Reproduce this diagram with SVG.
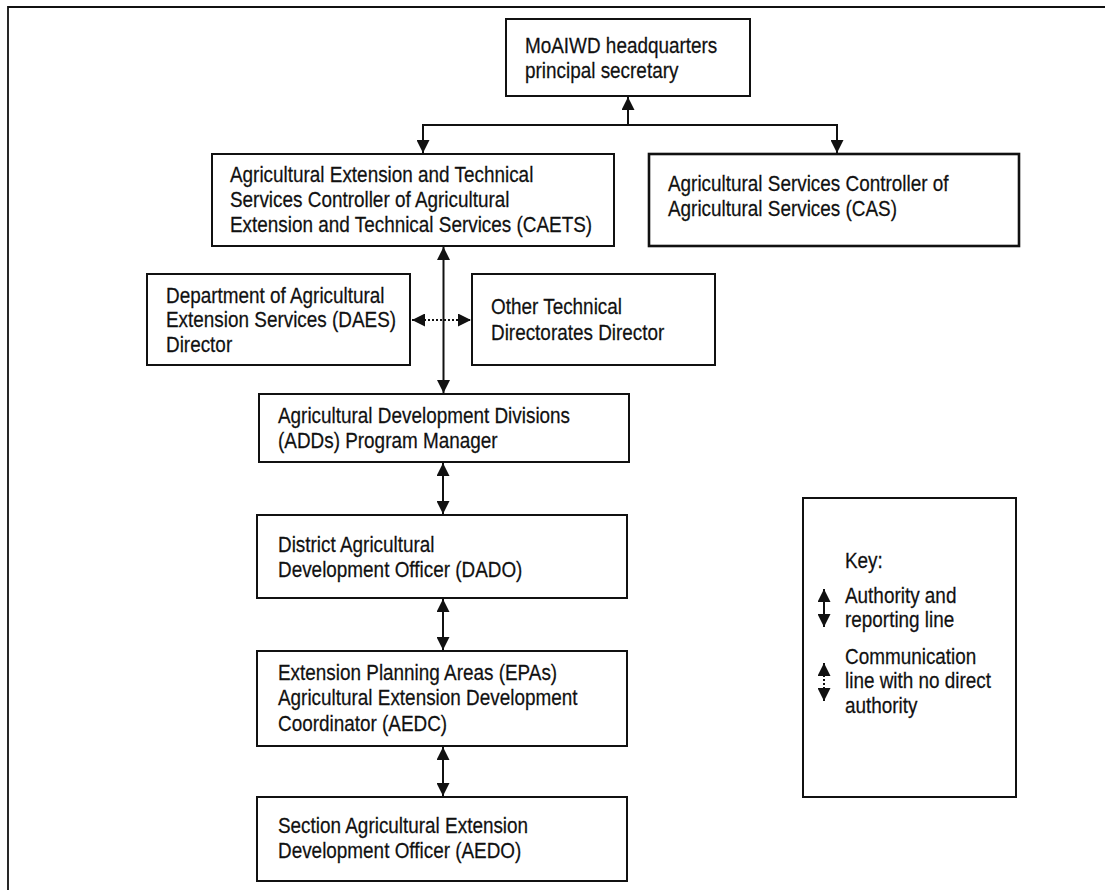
<svg xmlns="http://www.w3.org/2000/svg" width="1105" height="890" viewBox="0 0 1105 890">
<style>
.box{fill:#fff;stroke:#111;stroke-width:2}
.thick{stroke-width:2.6}
.t{font-family:"Liberation Sans",Arial,sans-serif;font-size:22px;fill:#111;stroke:#111;stroke-width:0.25}
.ln{fill:none;stroke:#111;stroke-width:2}
.dot{fill:none;stroke:#111;stroke-width:2;stroke-dasharray:2,2}
</style>
<defs>
<marker id="ah" viewBox="0 0 13 13" refX="13" refY="6.5" markerWidth="13" markerHeight="13" markerUnits="userSpaceOnUse" orient="auto-start-reverse">
<path d="M0,0 L13,6.5 L0,13 z" fill="#111"/>
</marker>
</defs>
<rect width="1105" height="890" fill="#fff"/>
<path d="M1105,7 H8 V890" fill="none" stroke="#111" stroke-width="1.8"/>

<g id="connectors">
<line class="ln" x1="628" y1="125" x2="628" y2="97" marker-end="url(#ah)"/>
<path class="ln" d="M423,153 V125 H837 V153" marker-start="url(#ah)" marker-end="url(#ah)"/>
<line class="ln" x1="443.5" y1="247" x2="443.5" y2="393" marker-start="url(#ah)" marker-end="url(#ah)"/>
<line class="dot" x1="412" y1="320" x2="471" y2="320" marker-start="url(#ah)" marker-end="url(#ah)"/>
<line class="ln" x1="443" y1="463" x2="443" y2="514" marker-start="url(#ah)" marker-end="url(#ah)"/>
<line class="ln" x1="443" y1="599" x2="443" y2="650" marker-start="url(#ah)" marker-end="url(#ah)"/>
<line class="ln" x1="443" y1="747" x2="443" y2="796" marker-start="url(#ah)" marker-end="url(#ah)"/>
</g>

<g id="moaiwd">
<rect class="box" x="506" y="19" width="244" height="77"/>
<text class="t" transform="translate(525,53) scale(0.86,1)"><tspan x="0" y="0">MoAIWD headquarters</tspan><tspan x="0" y="25">principal secretary</tspan></text>
</g>

<g id="caets">
<rect class="box" x="212" y="154" width="402" height="92"/>
<text class="t" transform="translate(230,182) scale(0.86,1)"><tspan x="0" y="0">Agricultural Extension and Technical</tspan><tspan x="0" y="25">Services Controller of Agricultural</tspan><tspan x="0" y="50">Extension and Technical Services (CAETS)</tspan></text>
</g>

<g id="cas">
<rect class="box thick" x="649" y="154" width="370" height="92"/>
<text class="t" transform="translate(668,191) scale(0.86,1)"><tspan x="0" y="0">Agricultural Services Controller of</tspan><tspan x="0" y="25.5">Agricultural Services (CAS)</tspan></text>
</g>

<g id="daes">
<rect class="box" x="147" y="274" width="263" height="91"/>
<text class="t" transform="translate(166,303) scale(0.86,1)"><tspan x="0" y="0">Department of Agricultural</tspan><tspan x="0" y="24.5">Extension Services (DAES)</tspan><tspan x="0" y="49">Director</tspan></text>
</g>

<g id="other">
<rect class="box" x="472" y="274" width="243" height="91"/>
<text class="t" transform="translate(491,314) scale(0.86,1)"><tspan x="0" y="0">Other Technical</tspan><tspan x="0" y="26">Directorates Director</tspan></text>
</g>

<g id="adds">
<rect class="box" x="259" y="394" width="370" height="68"/>
<text class="t" transform="translate(278,423) scale(0.86,1)"><tspan x="0" y="0">Agricultural Development Divisions</tspan><tspan x="0" y="25">(ADDs) Program Manager</tspan></text>
</g>

<g id="dado">
<rect class="box" x="257" y="515" width="370" height="83"/>
<text class="t" transform="translate(278,552) scale(0.86,1)"><tspan x="0" y="0">District Agricultural</tspan><tspan x="0" y="25">Development Officer (DADO)</tspan></text>
</g>

<g id="epas">
<rect class="box" x="257" y="651" width="370" height="95"/>
<text class="t" transform="translate(278,680) scale(0.86,1)"><tspan x="0" y="0">Extension Planning Areas (EPAs)</tspan><tspan x="0" y="25.5">Agricultural Extension Development</tspan><tspan x="0" y="51">Coordinator (AEDC)</tspan></text>
</g>

<g id="aedo">
<rect class="box" x="257" y="797" width="370" height="84"/>
<text class="t" transform="translate(278,833) scale(0.86,1)"><tspan x="0" y="0">Section Agricultural Extension</tspan><tspan x="0" y="25">Development Officer (AEDO)</tspan></text>
</g>

<g id="key">
<rect class="box" x="803" y="498" width="213" height="299"/>
<text class="t" transform="translate(845,568) scale(0.86,1)"><tspan x="0" y="0">Key:</tspan></text>
<line class="ln" x1="824" y1="589" x2="824" y2="627" marker-start="url(#ah)" marker-end="url(#ah)"/>
<text class="t" transform="translate(845,603) scale(0.86,1)"><tspan x="0" y="0">Authority and</tspan><tspan x="0" y="24.5">reporting line</tspan></text>
<line class="dot" x1="824" y1="663" x2="824" y2="701" marker-start="url(#ah)" marker-end="url(#ah)"/>
<text class="t" transform="translate(845,664) scale(0.86,1)"><tspan x="0" y="0">Communication</tspan><tspan x="0" y="24.5">line with no direct</tspan><tspan x="0" y="49">authority</tspan></text>
</g>
</svg>
